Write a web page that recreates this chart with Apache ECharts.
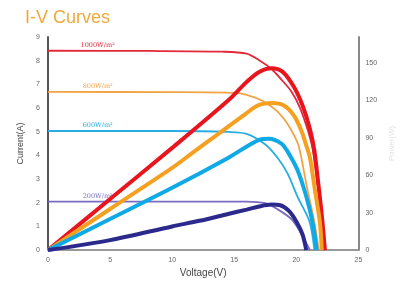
<!DOCTYPE html>
<html style="height: 100%">
<head>
<meta charset="utf-8">
</head>
<body style="width: 100%; height: 100%; margin:0; background:#fff;">
<div id="container" style="width:404px; height:283px"></div>
<script type="text/javascript" src="https://cdn.jsdelivr.net/npm/echarts@6/dist/echarts.min.js"></script>
<script type="text/javascript">
	// current curves [V, A]
	var iv1000 = [[0,8.42],[8,8.41],[14,8.38],[16,8.3],[17,8.02],[18,7.65],[18.8,7.2],[19.6,6.7],[20.3,6.0],[20.9,5.1],[21.3,4.3],[21.6,3.2],[21.95,1.8],[22.3,0]];
	var iv800 = [[0,6.68],[10,6.67],[15,6.64],[16,6.56],[17.3,6.3],[18.4,5.89],[19.2,5.4],[19.8,4.87],[20.2,4.38],[20.9,2.54],[21.45,1.19],[21.8,0]];
	var iv600 = [[0,5.03],[10,5.03],[14.5,4.99],[16,4.91],[17.5,4.46],[18.5,3.89],[19.3,3.23],[20.1,2.25],[21.07,1.19],[21.45,0]];
	var iv200 = [[0,2.05],[10,2.05],[16,2.05],[17.5,1.98],[18.5,1.72],[19.6,1.31],[20.3,0.78],[21.1,0]];
	// power curves [V, W]
	var pv1000 = [[0,0],[5,41],[10,82],[14.5,120],[16,135],[17,143],[18,146],[18.9,143],[19.8,131],[20.5,116],[21.1,97],[21.45,80],[21.75,55],[22.05,28],[22.3,0]];
	var pv800 = [[0,0],[5,33],[10,66],[11.5,77],[16,110],[17,116.5],[18.1,118],[19,116],[19.8,108],[20.4,96],[20.8,84],[21.1,74],[21.5,48],[21.9,22],[22.05,0]];
	var pv600 = [[0,0],[5,25],[10,50],[14.5,74],[17,88.5],[17.8,89.4],[18.8,85.5],[19.3,79],[20.1,64],[20.8,43],[21.3,22.5],[21.65,0]];
	var pv200 = [[0,0],[5,8],[10,19],[12.2,23.5],[14.5,29],[16,32.5],[17,35],[18,36.5],[18.7,36],[19.4,31.5],[20,23],[20.5,12.5],[20.8,0]];

	var irradiance = ['1000W/m²', '800W/m²', '600W/m²', '200W/m²'];
	var labelVolt = 4.0;

	var dom = document.getElementById("container");
	var myChart = echarts.init(dom);

	function ivSeries(name, data, color, width) {
		return {
			name: name,
			type: 'line',
			data: data,
			smooth: 0.3,
			showSymbol: false,
			lineStyle: { width: width, color: color },
			markPoint: {
				symbol: 'circle',
				symbolSize: 0,
				label: {
					show: true,
					position: 'top',
					distance: 2,
					formatter: name,
					color: color,
					fontSize: 6.5,
					fontFamily: 'DejaVu Serif'
				},
				data: [{ coord: [labelVolt, data[0][1]] }]
			}
		};
	}
	function pvSeries(name, data, color, width) {
		return {
			name: name + ' P',
			type: 'line',
			yAxisIndex: 1,
			data: data,
			smooth: 0.3,
			showSymbol: false,
			lineStyle: { width: width, color: color }
		};
	}

	var option = {
		animation: false,
		title: {
			text: 'I-V Curves',
			left: 20,
			top: 4,
			textStyle: {
				color: '#f2a93b',
				fontSize: 18,
				fontWeight: 'normal',
				fontFamily: 'Liberation Sans'
			}
		},
		grid: { left: 48, right: 25, top: 37, bottom: 26 },
		xAxis: {
			type: 'value',
			min: 0,
			max: 25,
			interval: 5,
			name: 'Voltage(V)',
			nameLocation: 'middle',
			nameGap: 16,
			nameTextStyle: { color: '#444', fontSize: 10, fontFamily: 'Liberation Sans' },
			axisLine: { lineStyle: { color: '#999', width: 2 } },
			axisTick: { show: false },
			axisLabel: { color: '#666', fontSize: 7, margin: 6 },
			splitLine: { show: false }
		},
		yAxis: [
			{
				type: 'value',
				min: 0,
				max: 9,
				interval: 1,
				name: 'Current(A)',
				nameLocation: 'middle',
				nameGap: 21,
				nameTextStyle: { color: '#444', fontSize: 9, fontFamily: 'Liberation Sans' },
				axisLine: { show: true, lineStyle: { color: '#555', width: 2 } },
				axisTick: { show: false },
				axisLabel: { color: '#666', fontSize: 7, margin: 8 },
				splitLine: { show: false }
			},
			{
				type: 'value',
				min: 0,
				max: 171,
				interval: 30,
				position: 'right',
				name: 'Power(W)',
				nameLocation: 'middle',
				nameGap: 29,
				nameTextStyle: { color: '#e2e2e2', fontSize: 8 },
				axisLine: { show: true, lineStyle: { color: '#888', width: 2 } },
				axisTick: { show: false },
				axisLabel: { color: '#666', fontSize: 7, margin: 7, showMaxLabel: false },
				splitLine: { show: false }
			}
		],
		series: [
			ivSeries(irradiance[0], iv1000, '#e3283a', 1.8),
			ivSeries(irradiance[1], iv800, '#f2a444', 1.8),
			ivSeries(irradiance[2], iv600, '#27ade2', 1.8),
			ivSeries(irradiance[3], iv200, '#7a6cc0', 1.8),
			pvSeries(irradiance[0], pv1000, '#e8151f', 4),
			pvSeries(irradiance[1], pv800, '#f5a021', 4),
			pvSeries(irradiance[2], pv600, '#0fa9e6', 4),
			pvSeries(irradiance[3], pv200, '#2b2a8c', 4)
		]
	};
	myChart.setOption(option);
</script>
</body>
</html>
